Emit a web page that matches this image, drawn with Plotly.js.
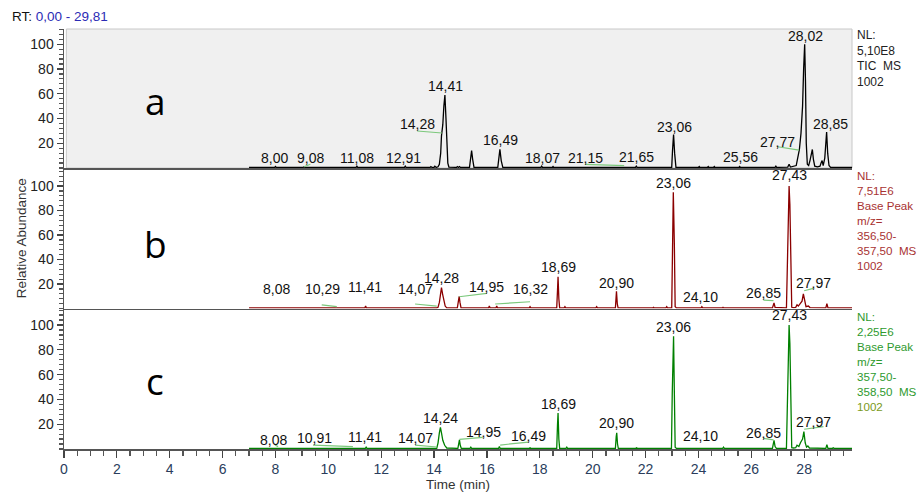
<!DOCTYPE html>
<html>
<head>
<meta charset="utf-8">
<script src="https://cdn.plot.ly/plotly-3.0.1.min.js"></script>
<style>html,body{margin:0;padding:0;background:#fff;}#chart{width:917px;height:497px;}</style>
</head>
<body>
<div id="chart"></div>
<script>
// ---------- Panel a: TIC (retention time, min / relative abundance, %) ----------
const tA = [
 7.00, 7.97, 8.00, 8.03,
 9.05, 9.08, 9.11,
 11.05, 11.08, 11.11,
 12.88, 12.91, 12.94,
 13.85, 13.88, 13.92, 14.00, 14.03, 14.08,
 14.15, 14.20, 14.25, 14.28, 14.33, 14.37, 14.41, 14.45, 14.48, 14.52, 14.56,
 14.85, 14.88, 14.92, 14.96, 15.00,
 15.34, 15.38, 15.42, 15.46, 15.51,
 16.41, 16.45, 16.49, 16.54, 16.60,
 18.04, 18.07, 18.10, 18.47, 18.50, 18.53,
 21.62, 21.65, 21.68,
 22.99, 23.02, 23.06, 23.10, 23.15,
 24.00, 24.03, 24.06, 24.34, 24.37, 24.40, 24.57, 24.60, 24.63,
 25.53, 25.56, 25.59,
 26.90, 26.93, 26.96,
 27.38, 27.43, 27.48,
 27.70, 27.77, 27.82, 27.88, 27.94, 27.98, 28.02, 28.05, 28.08, 28.12,
 28.17, 28.22, 28.27, 28.31, 28.35, 28.40,
 28.50, 28.60, 28.64, 28.68, 28.72,
 28.78, 28.82, 28.85, 28.89, 28.94, 29.00, 29.81
];
const iA = [
 0.5, 0.5, 1.2, 0.5,
 0.5, 1.0, 0.5,
 0.5, 1.5, 0.5,
 0.5, 1.5, 0.5,
 0.5, 1.2, 0.5, 0.5, 1.5, 0.5,
 1.0, 3, 12, 26, 35, 50, 59, 40, 17, 4, 0.8,
 0.5, 1.2, 0.5, 1.2, 0.5,
 0.5, 7, 14, 7, 0.5,
 0.5, 7, 15, 6, 0.5,
 0.5, 1.5, 0.5, 0.5, 1.2, 0.5,
 0.5, 1.5, 0.5,
 0.5, 14, 27, 12, 0.5,
 0.5, 1.2, 0.5, 0.5, 1.2, 0.5, 0.5, 1.2, 0.5,
 0.5, 1.2, 0.5,
 0.5, 1.5, 0.5,
 0.8, 3, 0.8,
 2, 10, 15, 28, 50, 80, 100, 70, 20, 3,
 2, 6, 13, 15, 7, 1.5,
 1, 1.5, 4, 6, 2,
 8, 20, 29, 12, 2, 0.5, 0.5
];

// ---------- Panel b: Base Peak m/z 356,50-357,50 ----------
const tB = [
 7.00, 11.38, 11.41, 11.44,
 14.10, 14.15, 14.20, 14.24, 14.28, 14.32, 14.37, 14.42, 14.48,
 14.88, 14.92, 14.95, 14.98, 15.02,
 16.06, 16.09, 16.12, 16.34, 16.37, 16.40,
 17.60, 17.63, 17.66,
 18.64, 18.67, 18.69, 18.72, 18.75,
 18.92, 18.95, 18.98, 19.62, 19.65, 19.68, 20.12, 20.15, 20.18,
 20.86, 20.88, 20.90, 20.93, 20.96,
 22.27, 22.30, 22.33, 22.77, 22.80, 22.83,
 22.99, 23.01, 23.05, 23.09, 23.12, 23.17,
 24.10, 24.13, 24.16, 24.90, 24.93, 24.96,
 26.80, 26.86, 26.90,
 27.33, 27.36, 27.40, 27.43, 27.46, 27.50, 27.53,
 27.60, 27.68, 27.73, 27.78, 27.85, 27.92, 27.97, 28.02, 28.07, 28.16, 28.22,
 28.82, 28.86, 28.90, 29.34, 29.37, 29.40, 29.81
];
const iB = [
 0.5, 0.5, 2, 0.5,
 0.5, 1, 5, 12, 17, 12, 5, 2, 0.5,
 0.5, 6, 10, 5, 0.5,
 0.5, 2, 0.5, 0.5, 2, 0.5,
 0.5, 1.5, 0.5,
 0.5, 15, 26, 8, 0.5,
 0.5, 1.5, 0.5, 0.5, 1, 0.5, 0.5, 1.5, 0.5,
 0.5, 10, 14, 4, 0.5,
 0.5, 1, 0.5, 0.5, 1.5, 0.5,
 0.5, 48, 95, 52, 1.5, 0.5,
 0.5, 1.5, 0.5, 0.5, 1, 0.5,
 0.5, 4.5, 1,
 0.5, 26, 70, 100, 85, 27, 1,
 0.8, 1, 3, 2, 4, 6, 12, 6, 1.5, 2, 0.8,
 0.5, 4, 0.5, 0.5, 1, 0.5, 0.5
];

// ---------- Panel c: Base Peak m/z 357,50-358,50 ----------
const tC = [
 7.00, 11.40, 11.43, 11.46,
 14.10, 14.15, 14.20, 14.24, 14.28, 14.33, 14.40, 14.48,
 14.90, 14.93, 14.96, 14.99, 15.03,
 15.36, 15.39, 15.42, 16.02, 16.05, 16.08, 16.17, 16.20, 16.23, 16.44, 16.47, 16.50,
 17.60, 17.63, 17.66,
 18.64, 18.67, 18.69, 18.72, 18.75,
 18.99, 19.02, 19.05, 19.56, 19.59, 19.62, 19.81, 19.84, 19.87, 20.12, 20.15, 20.18, 20.31, 20.34, 20.37,
 20.86, 20.89, 20.91, 20.94, 20.97,
 21.63, 21.66, 21.69, 22.27, 22.30, 22.33, 22.77, 22.80, 22.83,
 22.98, 23.01, 23.04, 23.06, 23.09, 23.12, 23.17,
 24.09, 24.12, 24.15, 24.92, 24.95, 24.98,
 26.80, 26.86, 26.90, 26.95,
 27.33, 27.36, 27.40, 27.43, 27.46, 27.50, 27.53,
 27.60, 27.68, 27.73, 27.80, 27.86, 27.94, 27.99, 28.04, 28.09, 28.14, 28.20,
 28.82, 28.86, 28.90, 29.07, 29.10, 29.13, 29.32, 29.35, 29.38, 29.81
];
const iC = [
 0.5, 0.5, 1.5, 0.5,
 0.5, 5, 13, 17.5, 13, 7, 3, 0.8,
 0.5, 5, 7.3, 3, 0.5,
 0.5, 1.5, 0.5, 0.5, 1, 0.5, 0.5, 1, 0.5, 0.5, 2, 0.5,
 0.5, 1, 0.5,
 0.5, 20, 29, 8, 0.5,
 0.5, 1.5, 0.5, 0.5, 1, 0.5, 0.5, 1, 0.5, 0.5, 1, 0.5, 0.5, 1, 0.5,
 0.5, 10, 13, 4, 0.5,
 0.5, 1, 0.5, 0.5, 1, 0.5, 0.5, 1, 0.5,
 0.5, 45, 66, 91, 45, 1.5, 0.5,
 0.5, 1, 0.5, 0.5, 1.5, 0.5,
 0.5, 7, 2, 0.5,
 0.5, 28, 70, 100, 85, 25, 1,
 0.8, 1, 3, 2, 5, 8, 14, 5, 1.5, 2.5, 0.8,
 0.5, 3.5, 0.5, 0.5, 1, 0.5, 0.5, 1, 0.5, 0.5
];

// ---------- Peak labels (text) ----------
const labA = ['8,00','9,08','11,08','12,91','14,28','14,41','16,49','18,07','21,15','21,65','23,06','25,56','27,77','28,02','28,85'];
const labB = ['8,08','10,29','11,41','14,07','14,28','14,95','16,32','18,69','20,90','23,06','24,10','26,85','27,43','27,97'];
const labC = ['8,08','10,91','11,41','14,07','14,24','14,95','16,49','18,69','20,90','23,06','24,10','26,85','27,43','27,97'];

// label anchor positions (layout)
const posA = [[7.95,8.1],[9.31,8.1],[11.09,8.1],[12.86,8.1],[13.36,35.6],[14.42,66.3],[16.5,22.6],[18.09,8.1],[19.71,8.1],[21.64,8.9],[23.08,33.1],[25.58,8.9],[27.01,21],[28.04,106.7],[28.98,35.6]];
const posB = [[8.05,15.9],[9.79,15.9],[11.39,17.6],[13.31,15.9],[14.29,25.1],[16.0,17.6],[17.63,15.9],[18.72,34.1],[20.89,20.8],[23.07,102.2],[24.06,9.6],[26.47,12.4],[27.43,109],[28.37,20.6]];
const posC = [[7.92,7.3],[9.46,8.9],[11.4,9.9],[13.29,8.9],[14.25,24.8],[15.86,14],[17.57,10.5],[18.72,36.3],[20.89,20.7],[23.07,98.6],[24.06,10.5],[26.47,13.1],[27.43,108],[28.37,22]];
// green leader lines [x0,y0,x1,y1]
const leadA = [[9.08,1,9.32,3],[13.36,29.9,14.3,28.3],[19.71,3,21.19,1.9],[27.0,17.2,27.81,14.5]];
const leadB = [[9.75,2.9,10.32,1.5],[13.28,3.7,14.1,2],[14.95,9.6,15.99,12.4],[16.31,3.7,17.63,5.5],[26.46,6.9,26.84,6.4],[28.0,14.5,28.35,16.5]];
const leadC = [[7.98,3.2,8.1,1.9],[9.42,3.2,10.93,1.9],[13.28,3.2,14.11,1.6],[14.96,7.8,15.84,9.4],[16.5,3.2,17.57,5.6],[26.46,8.6,26.84,7.3],[28.0,15.9,28.73,18]];

const infoA = 'NL:<br>5,10E8<br>TIC  MS<br>1002';
const infoB = 'NL:<br>7,51E6<br>Base Peak<br>m/z=<br>356,50-<br>357,50  MS<br>1002';
const infoC = 'NL:<br>2,25E6<br>Base Peak<br>m/z=<br>357,50-<br>358,50  MS<br><span style="color:#7a9a1a">1002</span>';

const FONT = 'Liberation Sans, Arial, sans-serif';

const traces = [
  {x: tA, y: iA, xaxis: 'x3', yaxis: 'y3', type: 'scatter', mode: 'lines', line: {color: '#000000', width: 1.3}, hoverinfo: 'x+y'},
  {x: tB, y: iB, xaxis: 'x2', yaxis: 'y2', type: 'scatter', mode: 'lines', line: {color: '#8b0000', width: 1.3}, hoverinfo: 'x+y'},
  {x: tC, y: iC, xaxis: 'x', yaxis: 'y', type: 'scatter', mode: 'lines', line: {color: '#008000', width: 1.3}, hoverinfo: 'x+y'}
];

const yBase = {
  tickmode: 'array', tickvals: [20, 40, 60, 80, 100],
  ticks: 'outside', ticklen: 6, tickwidth: 1.2, tickcolor: '#444',
  minor: {tickmode: 'linear', tick0: 0, dtick: 4, ticks: 'outside', ticklen: 4, tickwidth: 1.2, tickcolor: '#555', showgrid: false},
  showline: true, linecolor: '#555', linewidth: 1.5,
  showgrid: false, zeroline: false, fixedrange: true,
  tickfont: {family: FONT, size: 14, color: '#222'}
};
const xHidden = {
  matches: 'x', domain: [0, 1], showline: true, linecolor: '#555', linewidth: 1.5,
  ticks: '', showticklabels: false, showgrid: false, zeroline: false
};

const shapes = [{
  type: 'rect', xref: 'paper', yref: 'paper', x0: 0.003, x1: 1, y0: 0.669, y1: 1,
  fillcolor: '#f0f0f0', line: {color: '#c8c8c8', width: 1}, layer: 'below'
}];
function addLeads(list, xr, yr) {
  list.forEach(l => shapes.push({type: 'line', xref: xr, yref: yr, x0: l[0], y0: l[1], x1: l[2], y1: l[3], line: {color: '#7cc87c', width: 1.2}}));
}
addLeads(leadA, 'x3', 'y3');
addLeads(leadB, 'x2', 'y2');
addLeads(leadC, 'x', 'y');

const annotations = [];
function addLabels(txt, pos, xr, yr) {
  txt.forEach((t, k) => annotations.push({
    text: t, x: pos[k][0], y: pos[k][1], xref: xr, yref: yr, showarrow: false,
    xanchor: 'center', yanchor: 'middle', font: {family: FONT, size: 14, color: '#111'}
  }));
}
addLabels(labA, posA, 'x3', 'y3');
addLabels(labB, posB, 'x2', 'y2');
addLabels(labC, posC, 'x', 'y');

annotations.push(
  {text: 'RT: <span style="color:#2b2bb5">0,00 - 29,81</span>', xref: 'paper', yref: 'paper', x: -0.0685, y: 1.0286,
   xanchor: 'left', yanchor: 'middle', showarrow: false, font: {family: FONT, size: 13.5, color: '#111'}},
  {text: infoA, xref: 'paper', yref: 'paper', x: 1.004, y: 1.006, xanchor: 'left', yanchor: 'top', align: 'left',
   showarrow: false, font: {family: FONT, size: 12, color: '#222'}},
  {text: infoB, xref: 'paper', yref: 'paper', x: 1.004, y: 0.671, xanchor: 'left', yanchor: 'top', align: 'left',
   showarrow: false, font: {family: FONT, size: 11.6, color: '#a83232'}},
  {text: infoC, xref: 'paper', yref: 'paper', x: 1.004, y: 0.335, xanchor: 'left', yanchor: 'top', align: 'left',
   showarrow: false, font: {family: FONT, size: 11.6, color: '#2e9a2e'}},
  {text: 'a', xref: 'paper', yref: 'paper', x: 0.1155, y: 0.83, xanchor: 'center', yanchor: 'middle', showarrow: false,
   font: {family: 'Open Sans, Noto Sans, sans-serif', size: 37, color: '#000'}},
  {text: 'b', xref: 'paper', yref: 'paper', x: 0.1155, y: 0.49, xanchor: 'center', yanchor: 'middle', showarrow: false,
   font: {family: 'Open Sans, Noto Sans, sans-serif', size: 37, color: '#000'}},
  {text: 'c', xref: 'paper', yref: 'paper', x: 0.1155, y: 0.163, xanchor: 'center', yanchor: 'middle', showarrow: false,
   font: {family: 'Open Sans, Noto Sans, sans-serif', size: 37, color: '#000'}}
);

const layout = {
  width: 917, height: 497,
  margin: {l: 64, r: 65, t: 29, b: 48},
  paper_bgcolor: '#ffffff', plot_bgcolor: 'rgba(0,0,0,0)',
  showlegend: false,
  font: {family: FONT, size: 13.5, color: '#222'},
  xaxis: {
    domain: [0, 1], anchor: 'y', range: [0, 29.81],
    tickmode: 'linear', tick0: 0, dtick: 2,
    ticks: 'outside', ticklen: 7, tickwidth: 1.2, tickcolor: '#444',
    minor: {dtick: 0.5, tick0: 0, ticks: 'outside', ticklen: 5, tickwidth: 1.2, tickcolor: '#555', showgrid: false},
    showline: true, linecolor: '#555', linewidth: 1.5,
    showgrid: false, zeroline: false,
    tickfont: {family: FONT, size: 14, color: '#2a3d5c'},
    title: {text: 'Time (min)', font: {family: FONT, size: 13.5, color: '#333'}, standoff: 3}
  },
  xaxis2: Object.assign({anchor: 'y2'}, xHidden),
  xaxis3: Object.assign({anchor: 'y3'}, xHidden),
  yaxis: Object.assign({domain: [0, 0.3345], range: [0, 113.3], anchor: 'x'}, yBase),
  yaxis2: Object.assign({domain: [0.3345, 0.669], range: [0, 114.7], anchor: 'x2',
    title: {text: 'Relative Abundance', font: {family: FONT, size: 13.5, color: '#333'}, standoff: 0}}, yBase),
  yaxis3: Object.assign({domain: [0.669, 1], range: [0, 112.3], anchor: 'x3'}, yBase),
  shapes: shapes,
  annotations: annotations
};

Plotly.newPlot('chart', traces, layout, {displayModeBar: false, staticPlot: true});
</script>
</body>
</html>
